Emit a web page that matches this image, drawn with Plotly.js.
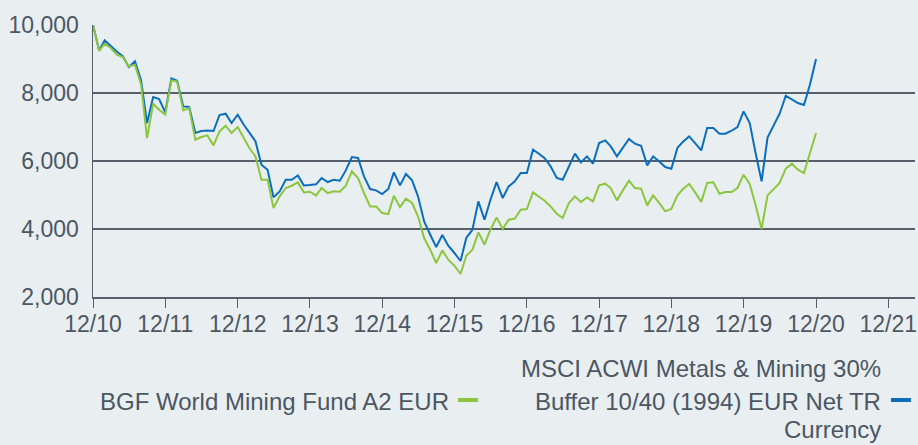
<!DOCTYPE html>
<html>
<head>
<meta charset="utf-8">
<script src="https://cdn.plot.ly/plotly-3.0.1.min.js"></script>
<style>html,body{margin:0;padding:0;background:#e9eef1;}#chart{width:918px;height:445px;}</style>
</head>
<body>
<div id="chart"></div>
<script>
// Monthly values, Dec 2010 .. Dec 2020 (rebased to 10,000)
const fundName = "BGF World Mining Fund A2 EUR";
const benchLines = ["MSCI ACWI Metals & Mining 30%", "Buffer 10/40 (1994) EUR Net TR", "Currency"];

const fundValues = [
  10000, 9240, 9450, 9323, 9126, 9058, 8782, 8832, 8244, 6676, 7685, 7508,
  7361, 8370, 8341, 7488, 7558, 6626, 6706, 6753, 6459, 6870, 7038, 6823,
  6999, 6676, 6382, 6135, 5450, 5450, 4617, 4959, 5206, 5273, 5371, 5077,
  5097, 4979, 5205, 5058, 5107, 5097, 5273, 5694, 5500, 5058, 4665, 4665,
  4470, 4441, 4979, 4647, 4891, 4764, 4372, 3735, 3391, 3000, 3372, 3097,
  2921, 2676, 3215, 3391, 3900, 3538, 3979, 4342, 3999, 4274, 4303, 4568,
  4588, 5077, 4960, 4832, 4665, 4450, 4323, 4764, 4960, 4794, 4930, 4813,
  5283, 5332, 5205, 4842, 5136, 5420, 5205, 5185, 4695, 4989, 4764, 4519,
  4588, 4989, 5176, 5323, 5077, 4794, 5353, 5372, 5038, 5087, 5087, 5205,
  5597, 5323, 4714, 4000, 4989, 5176, 5353, 5773, 5920, 5744, 5646, 6230,
  6823
];

const benchValues = [
  10000, 9253, 9547, 9370, 9223, 9076, 8764, 8929, 8370, 7117, 7882, 7823,
  7429, 8429, 8361, 7606, 7588, 6823, 6882, 6900, 6882, 7353, 7391, 7117,
  7361, 7067, 6823, 6577, 5891, 5744, 4930, 5106, 5450, 5450, 5576, 5283,
  5293, 5313, 5499, 5381, 5450, 5420, 5724, 6117, 6088, 5548, 5176, 5136,
  5029, 5176, 5665, 5283, 5617, 5430, 4960, 4223, 3832, 3470, 3823, 3509,
  3294, 3059, 3735, 3979, 4813, 4273, 4862, 5381, 4911, 5253, 5400, 5646,
  5646, 6332, 6220, 6080, 5842, 5500, 5450, 5842, 6215, 5960, 6136, 5920,
  6530, 6606, 6430, 6135, 6382, 6647, 6509, 6450, 5870, 6135, 5988, 5823,
  5773, 6390, 6570, 6724, 6525, 6312, 6970, 6970, 6803, 6803, 6890, 7000,
  7459, 7117, 6250, 5400, 6690, 7038, 7391, 7920, 7803, 7706, 7647, 8244,
  9000
];

// Month-end dates matching the values
const dates = [];
for (let i = 0; i < fundValues.length; i++) {
  dates.push(new Date(Date.UTC(2011, i, 0)).toISOString().slice(0, 10));
}

const tickVals = ["2010-12-31","2011-12-31","2012-12-31","2013-12-31","2014-12-31","2015-12-31",
                  "2016-12-31","2017-12-31","2018-12-31","2019-12-31","2020-12-31","2021-12-31"];
const tickText = ["12/10","12/11","12/12","12/13","12/14","12/15","12/16","12/17","12/18","12/19","12/20","12/21"];
const yTickVals = [2000, 4000, 6000, 8000, 10000];

const GREEN = "#8cc63f";
const BLUE = "#0a6ebd";
const TEXT = "#4b5763";
const LINE = "#56606a";
const BG = "#e9eef1";

const M = {l: 93, r: 3, t: 25, b: 148};
const W = 918, H = 445;
const pw = W - M.l - M.r, ph = H - M.t - M.b;
const px = x => (x - M.l) / pw;
const py = y => 1 - (y - M.t) / ph;

const traces = [
  {x: dates, y: benchValues, type: "scatter", mode: "lines", name: benchLines.join(" "),
   line: {color: BLUE, width: 2}, hoverinfo: "skip"},
  {x: dates, y: fundValues, type: "scatter", mode: "lines", name: fundName,
   line: {color: GREEN, width: 2}, hoverinfo: "skip"}
];

const font = {family: "Liberation Sans, Arial, sans-serif", color: TEXT};

const annotations = [
  {text: fundName, x: px(451), y: py(401), xanchor: "right", yanchor: "middle"},
  {text: benchLines[0], x: px(883), y: py(368), xanchor: "right", yanchor: "middle"},
  {text: benchLines[1], x: px(883), y: py(401.5), xanchor: "right", yanchor: "middle"},
  {text: benchLines[2], x: px(883), y: py(429), xanchor: "right", yanchor: "middle"}
].map(a => Object.assign({xref: "paper", yref: "paper", showarrow: false, align: "right",
                          font: Object.assign({}, font, {size: 24})}, a));

const shapes = [
  {type: "line", xref: "paper", yref: "paper", x0: px(458), x1: px(478), y0: py(400), y1: py(400),
   line: {color: GREEN, width: 4}},
  {type: "line", xref: "paper", yref: "paper", x0: px(891), x1: px(911), y0: py(400), y1: py(400),
   line: {color: BLUE, width: 4}}
];

const layout = {
  width: W, height: H,
  margin: M,
  paper_bgcolor: BG, plot_bgcolor: BG,
  showlegend: false,
  font: Object.assign({}, font, {size: 23}),
  xaxis: {
    type: "date",
    range: ["2010-12-31", "2022-05-15"],
    tickmode: "array", tickvals: tickVals, ticktext: tickText,
    ticks: "outside", ticklen: 9, tickwidth: 1, tickcolor: LINE,
    ticklabelstandoff: -3,
    showgrid: false, zeroline: false,
    showline: true, linecolor: LINE, linewidth: 1.5,
    tickfont: {size: 23, color: TEXT}
  },
  yaxis: {
    range: [2000, 10000],
    tickmode: "array", tickvals: yTickVals,
    tickformat: ",d",
    ticks: "", ticklabelstandoff: 8,
    showgrid: true, gridcolor: LINE, gridwidth: 1.5,
    zeroline: false,
    showline: true, linecolor: LINE, linewidth: 1.5,
    tickfont: {size: 23, color: TEXT}
  },
  annotations: annotations,
  shapes: shapes
};

Plotly.newPlot("chart", traces, layout, {staticPlot: true, displayModeBar: false});
</script>
</body>
</html>
